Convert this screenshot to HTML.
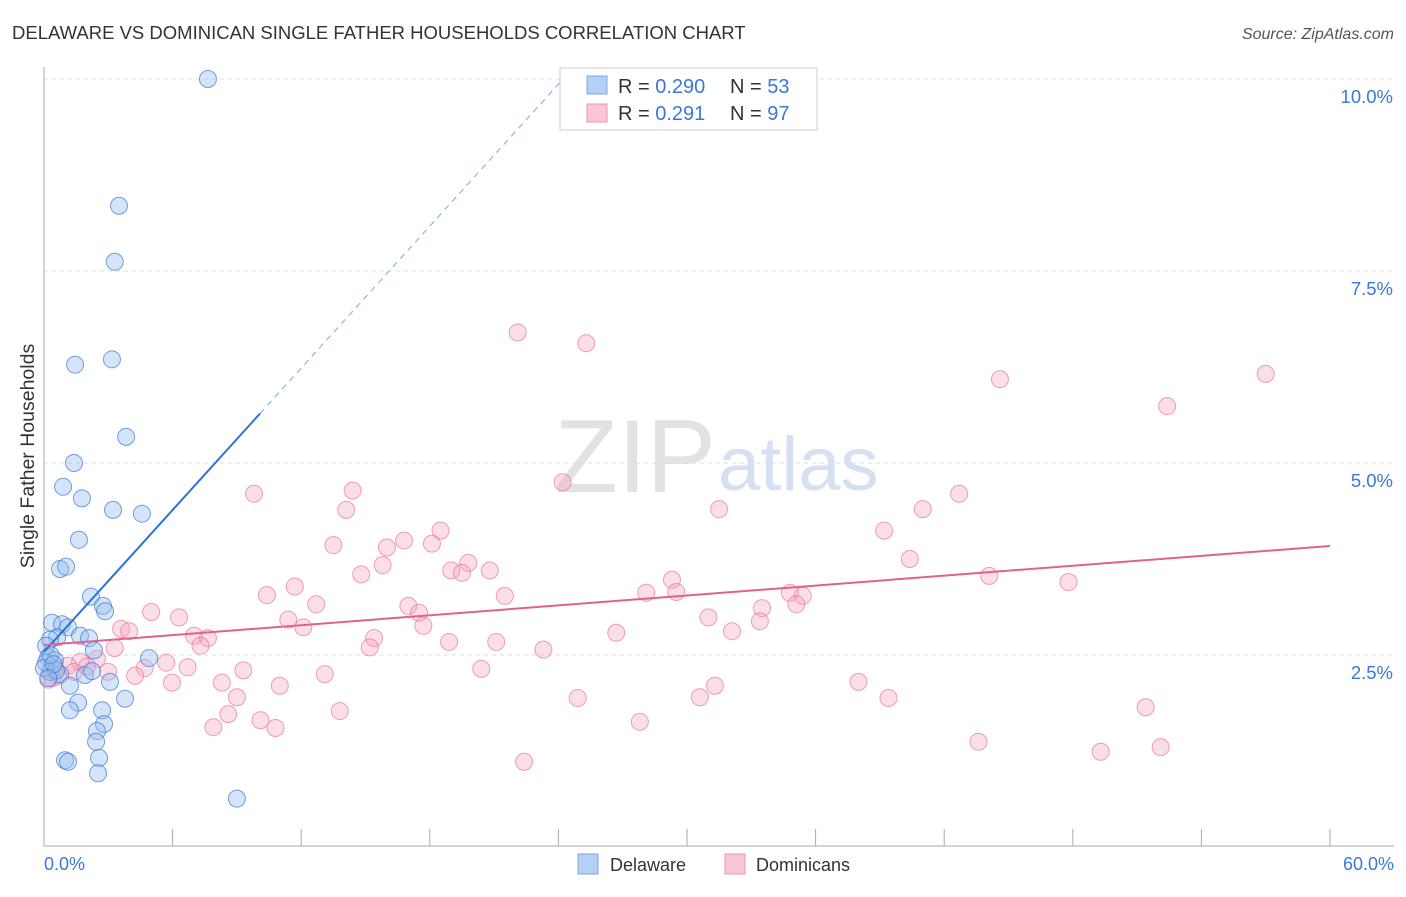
<!DOCTYPE html>
<html><head><meta charset="utf-8"><style>
body{margin:0;background:#fff;font-family:"Liberation Sans",sans-serif;}
svg text{font-family:"Liberation Sans",sans-serif;}
</style></head><body>
<svg id="chart" width="1406" height="892">
<text x="12" y="39" font-size="18.5" fill="#333">DELAWARE VS DOMINICAN SINGLE FATHER HOUSEHOLDS CORRELATION CHART</text>
<text x="1394" y="39" font-size="16" fill="#555" text-anchor="end" font-style="italic">Source: ZipAtlas.com</text>
<text x="716" y="492" font-size="104" fill="#e2e2e2" text-anchor="end" font-family="Liberation Serif">ZIP</text>
<text x="718" y="490" font-size="76" fill="#d3e1f2">atlas</text>
<g id="grid"></g>
<g id="pts"></g>
<g id="lines"></g>
<text transform="translate(34,456) rotate(-90)" font-size="19.5" fill="#333" text-anchor="middle">Single Father Households</text>
<text x="44" y="870" font-size="18" fill="#3a78d8">0.0%</text>
<text x="1394" y="870" font-size="18" fill="#3a78d8" text-anchor="end">60.0%</text>
<g>
<rect x="560" y="68" width="257" height="62" fill="#fff" stroke="#ccc"/>
<rect x="587" y="76" width="20" height="18" fill="#b5d0f5" stroke="#7aa7e6"/>
<rect x="587" y="104" width="20" height="18" fill="#f9c6d6" stroke="#ec95b2"/>
<text x="618" y="93" font-size="20" fill="#333">R = <tspan fill="#3a78d8">0.290</tspan></text>
<text x="730" y="93" font-size="20" fill="#333">N = <tspan fill="#3a78d8">53</tspan></text>
<text x="618" y="120" font-size="20" fill="#333">R = <tspan fill="#3a78d8"> 0.291</tspan></text>
<text x="730" y="120" font-size="20" fill="#333">N = <tspan fill="#3a78d8">97</tspan></text>
</g>
<g>
<rect x="578" y="854" width="20" height="20" fill="#b5d0f5" stroke="#7aa7e6"/>
<text x="610" y="871" font-size="18" fill="#333">Delaware</text>
<rect x="725" y="854" width="20" height="20" fill="#f9c6d6" stroke="#ec95b2"/>
<text x="756" y="871" font-size="18" fill="#333">Dominicans</text>
</g>
</svg>
<script>
const yTicks=[2.5,5.0,7.5,10.0];
const yTickLabels=["2.5%","5.0%","7.5%","10.0%"];
const xTicks=[0,6,12,18,24,30,36,42,48,54,60];
const delX=[7.65,3.5,3.3,3.17,1.45,3.83,1.4,0.89,1.77,3.22,4.57,1.63,0.75,1.03,2.19,2.75,2.85,0.37,0.84,1.12,1.68,2.1,0.61,0.28,2.33,4.9,0.19,0.51,0.09,0.28,0.75,1.91,2.24,3.08,1.21,3.78,1.59,1.21,2.71,2.8,2.47,2.43,0.98,1.12,2.57,2.52,9.0,0,0.56,0.1,0.3,0.45,0.2];
const delY=[10.0,8.35,7.62,6.35,6.28,5.34,5.0,4.69,4.54,4.39,4.34,4.0,3.62,3.65,3.26,3.14,3.07,2.92,2.9,2.86,2.75,2.72,2.73,2.7,2.56,2.46,2.47,2.43,2.4,2.28,2.25,2.24,2.29,2.15,2.1,1.93,1.88,1.78,1.78,1.6,1.51,1.37,1.13,1.11,1.16,0.96,0.63,2.33,2.3,2.62,2.5,2.38,2.2];
const domX=[22.1,25.3,44.6,57.0,52.4,24.2,14.4,9.8,42.7,14.1,31.5,41.0,18.5,39.2,16.8,13.5,16.0,18.1,40.4,19.8,15.8,19.0,20.8,19.5,14.8,44.1,29.3,47.8,11.7,10.4,21.5,28.1,29.5,34.8,35.4,35.1,12.7,17.0,17.5,5.0,6.3,33.5,11.4,31.0,33.4,17.7,12.1,3.6,3.97,26.7,32.1,7.0,7.65,15.4,18.9,21.1,7.3,15.2,23.3,3.3,2.47,5.7,4.7,6.7,9.3,1.68,1.12,0.65,0.51,4.25,2.99,13.1,20.4,5.97,8.3,11.0,38.0,31.3,9.0,30.6,24.9,39.4,13.8,8.6,51.4,10.1,27.8,7.9,10.8,43.6,49.3,52.1,22.4,0.4,1.4,2.0,0.2];
const domY=[6.7,6.56,6.09,6.16,5.74,4.75,4.64,4.6,4.6,4.39,4.4,4.4,4.12,4.12,3.99,3.93,3.9,3.95,3.75,3.7,3.67,3.6,3.6,3.57,3.55,3.53,3.48,3.45,3.39,3.28,3.27,3.31,3.32,3.31,3.27,3.16,3.16,3.14,3.05,3.06,2.99,3.11,2.96,2.99,2.94,2.88,2.86,2.84,2.81,2.79,2.81,2.75,2.72,2.72,2.67,2.67,2.62,2.6,2.57,2.59,2.45,2.4,2.33,2.34,2.3,2.41,2.36,2.23,2.33,2.23,2.28,2.25,2.32,2.14,2.14,2.1,2.15,2.1,1.95,1.95,1.94,1.94,1.77,1.73,1.82,1.65,1.63,1.56,1.55,1.37,1.24,1.3,1.11,2.2,2.28,2.35,2.18];
const delTrend=[2.54,0.308];
const domTrend=[2.63,0.0215];
const NS="http://www.w3.org/2000/svg";
const X=v=>44+v*1286/60, Y=v=>847-v*76.8;
function mk(tag,attrs,parent){const e=document.createElementNS(NS,tag);for(const k in attrs)e.setAttribute(k,attrs[k]);parent.appendChild(e);return e;}
const grid=document.getElementById('grid'),pts=document.getElementById('pts'),lines=document.getElementById('lines');
yTicks.forEach((t,i)=>{
 const l=mk('line',{x1:44,x2:1394,y1:Y(t),y2:Y(t),stroke:'#ddd','stroke-dasharray':'4,4'},grid);
 
 
 const tx=mk('text',{x:1393,y:Y(t)+24,'font-size':18.5,fill:'#3a78d8','text-anchor':'end'},grid);
 tx.textContent=yTickLabels[i];
 
 
});
const ax=mk('line',{x1:44,x2:44,y1:67,y2:846,stroke:'#aaa'},grid);


const bx=mk('line',{x1:44,x2:1394,y1:846,y2:846,stroke:'#aaa'},grid);


xTicks.forEach(t=>{
 const l=mk('line',{x1:X(t),x2:X(t),y1:829,y2:846,stroke:'#aaa'},grid);
 
 
});
domX.forEach((v,i)=>{
 const c=mk('circle',{cx:X(v),cy:Y(domY[i]),r:8.5,fill:'rgba(245,160,190,0.35)',stroke:'rgba(230,120,160,0.7)','stroke-width':1},pts);
 
 
});
delX.forEach((v,i)=>{
 const c=mk('circle',{cx:X(v),cy:Y(delY[i]),r:8.5,fill:'rgba(150,190,240,0.4)',stroke:'rgba(60,120,210,0.7)','stroke-width':1},pts);
 
 
});
const bt=v=>delTrend[0]+delTrend[1]*v;
let l1=mk('line',{x1:X(0),y1:Y(bt(0)),x2:X(10.08),y2:Y(bt(10.08)),stroke:'#2a72d8','stroke-width':2},lines);


let l2=mk('line',{x1:X(10.08),y1:Y(bt(10.08)),x2:X(24.1),y2:Y(bt(24.1)),stroke:'#7aa7e6','stroke-width':1,'stroke-dasharray':'6,5'},lines);


const pt=v=>domTrend[0]+domTrend[1]*v;
let l3=mk('line',{x1:X(0),y1:Y(pt(0)),x2:X(60),y2:Y(pt(60)),stroke:'#e0628e','stroke-width':2},lines);


</script>
</body></html>
